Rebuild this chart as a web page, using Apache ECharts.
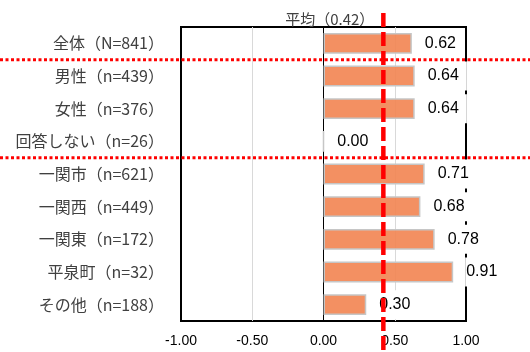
<!DOCTYPE html>
<html>
<head>
<meta charset="utf-8">
<script src="https://cdn.jsdelivr.net/npm/echarts@6/dist/echarts.min.js"></script>
<style>
html,body{margin:0;padding:0;background:#fff;}
#chart{width:530px;height:352px;}
</style>
</head>
<body>
<div id="chart"></div>
<script>
var categories = ['全体（N=841）','男性（n=439）','女性（n=376）','回答しない（n=26）','一関市（n=621）','一関西（n=449）','一関東（n=172）','平泉町（n=32）','その他（n=188）'];
var values = [0.62, 0.64, 0.64, 0.00, 0.71, 0.68, 0.78, 0.91, 0.30];
var meanValue = 0.42;
var meanLabel = '平均（0.42）';
var separatorAfter = [0, 3];
var xMin = -1, xMax = 1, xInterval = 0.5;

var chart = echarts.init(document.getElementById('chart'), null, {renderer:'canvas'});
var numFont = '"Liberation Sans", "Noto Sans", sans-serif';
var cjkFont = '"Noto Sans CJK JP", sans-serif';

chart.setOption({
  animation: false,
  backgroundColor: '#fff',
  grid: {left:181, right:64, top:27, bottom:31, show:true, borderColor:'#000', borderWidth:2, backgroundColor:'transparent'},
  xAxis: {
    type:'value', min:xMin, max:xMax, interval:xInterval,
    axisLine:{show:false}, axisTick:{show:false},
    axisLabel:{formatter:function(v){return v.toFixed(2);}, fontSize:14, color:'#000', fontFamily:numFont, margin:13},
    splitLine:{show:true, showMinLine:true, showMaxLine:true, lineStyle:{color:['#000','#d9d9d9','#000','#d9d9d9','#000'], width:1}}
  },
  yAxis: {
    type:'category', data:categories, inverse:true,
    axisLine:{show:false}, axisTick:{show:false},
    axisLabel:{fontSize:16, color:'#404040', fontFamily:cjkFont, margin:17}
  },
  series: [{
    type:'bar', data:values, barWidth:'64%',
    itemStyle:{color:'rgba(242,135,85,0.92)', borderColor:'#c6c6c6', borderWidth:1.5},
    label:{show:true, position:'right', distance:12, formatter:function(p){return p.value.toFixed(2);},
      fontSize:16, color:'#000', fontFamily:numFont, backgroundColor:'#fff', padding:[5,8,5,1], lineHeight:19}
  }]
});

function drawOverlays(){
  var x = chart.convertToPixel({xAxisIndex:0}, meanValue);
  var g = [];
  g.push({type:'line', z:200, shape:{x1:x, y1:13, x2:x, y2:352},
    style:{stroke:'#ff0000', lineWidth:4.5, lineDash:[14,5]}});
  g.push({type:'text', z:200, style:{text:meanLabel, x:x-9, y:19, align:'right', verticalAlign:'middle',
    fontSize:15, fill:'#404040', fontFamily:cjkFont}});
  separatorAfter.forEach(function(i){
    var y1 = chart.convertToPixel({yAxisIndex:0}, categories[i]);
    var y2 = chart.convertToPixel({yAxisIndex:0}, categories[i+1]);
    var y = (y1+y2)/2;
    g.push({type:'line', z:150, shape:{x1:0, y1:y, x2:530, y2:y},
      style:{stroke:'#ff0000', lineWidth:3, lineDash:[3,2.5]}});
  });
  chart.setOption({graphic:g});
}
drawOverlays();
</script>
</body>
</html>
